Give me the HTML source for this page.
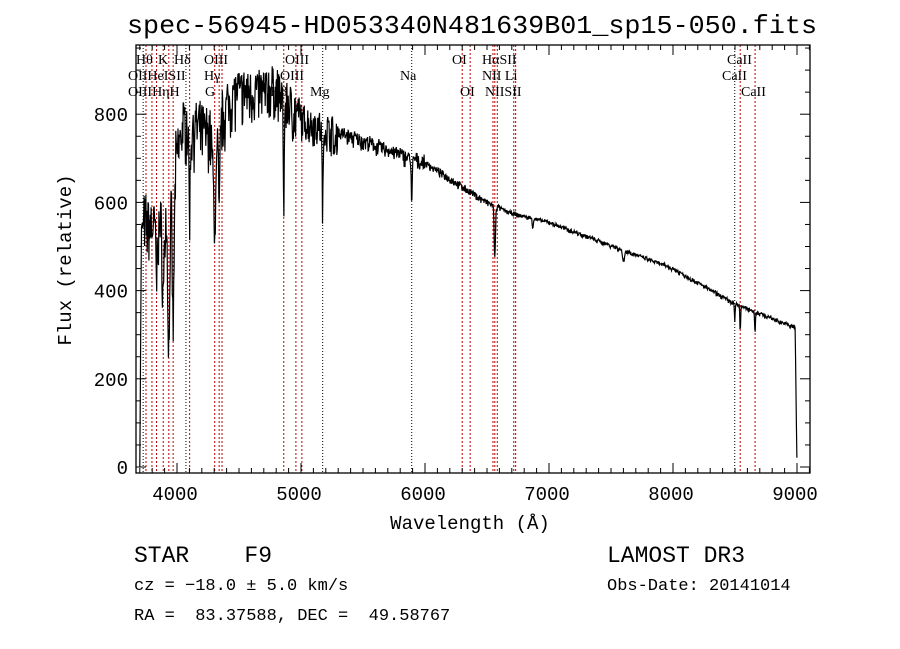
<!DOCTYPE html>
<html><head><meta charset="utf-8"><style>
body{margin:0;background:#fff;width:900px;height:649px;overflow:hidden}
svg{display:block}
.l{font-family:"Liberation Serif",serif;font-size:14px}
.t{font-family:"Liberation Mono",monospace;white-space:pre}
</style></head><body>
<svg id="s" width="900" height="649" xmlns="http://www.w3.org/2000/svg">
<rect width="900" height="649" fill="#fff"/>
<text class="t" x="472" y="33" font-size="26" text-anchor="middle" textLength="690" lengthAdjust="spacingAndGlyphs">spec-56945-HD053340N481639B01_sp15-050.fits</text>
<g id="lines"></g>
<g id="ticks" stroke="#000" stroke-width="1"></g>
<path id="spec" fill="none" stroke="#000" stroke-width="1.2"/>
<rect x="136" y="45" width="674" height="428" fill="none" stroke="#000" stroke-width="1.3"/>
<g class="l">
<text x="136" y="64">Hθ</text><text x="158" y="64">K</text><text x="174" y="64">Hδ</text><text x="204" y="64">OIII</text><text x="285" y="64">OIII</text><text x="452" y="64">OI</text><text x="482" y="64">HαSII</text><text x="727" y="64">CaII</text>
<text x="128" y="80">OIIHeISII</text><text x="204" y="80">Hγ</text><text x="280" y="80">OIII</text><text x="400" y="80">Na</text><text x="482" y="80">NII Li</text><text x="722" y="80">CaII</text>
<text x="128" y="96">OIIIHηH</text><text x="205" y="96">G</text><text x="270" y="96">Hβ</text><text x="310" y="96">Mg</text><text x="460" y="96">OI</text><text x="485" y="96">NIISII</text><text x="741" y="96">CaII</text>
</g>
<g class="t" font-size="19" text-anchor="middle" id="xl"></g>
<g class="t" font-size="19" text-anchor="end" id="yl"></g>
<text class="t" x="470" y="529" font-size="19" text-anchor="middle">Wavelength (Å)</text>
<text class="t" font-size="19" text-anchor="middle" transform="translate(71,260) rotate(-90)">Flux (relative)</text>
<text class="t" x="134" y="562" font-size="23">STAR    F9</text>
<text class="t" x="607" y="562" font-size="23">LAMOST DR3</text>
<text class="t" x="134" y="590" font-size="17">cz = −18.0 ± 5.0 km/s</text>
<text class="t" x="607" y="590" font-size="17">Obs-Date: 20141014</text>
<text class="t" x="134" y="620" font-size="17">RA =  83.37588, DEC =  49.58767</text>
</svg>
<script>
var NS="http://www.w3.org/2000/svg";
function X(w){return 177+(w-4000)*0.124;}
function Y(f){return 467-f*0.441;}
function el(p,n,a){var e=document.createElementNS(NS,n);for(var k in a)e.setAttribute(k,a[k]);p.appendChild(e);return e;}
var L=document.getElementById('lines');
var red=[3750,3798,3835,3889,3934,3969,4102,4304,4340,4363,4861,4959,5007,6300,6364,6548,6563,6583,6716,6731,8542,8662];
var blk=[3727,4072,5175,5893,8498];
red.forEach(function(w){el(L,'line',{x1:X(w),x2:X(w),y1:45,y2:473,stroke:'#c00000','stroke-dasharray':'2,2','stroke-width':1});});
blk.forEach(function(w){el(L,'line',{x1:X(w),x2:X(w),y1:45,y2:473,stroke:'#000','stroke-dasharray':'1,2','stroke-width':1});});
var T=document.getElementById('ticks');
for(var w=3700;w<=9100;w+=100){var big=w%1000==0,h=big?10:5;el(T,'line',{x1:X(w),x2:X(w),y1:473,y2:473-h});el(T,'line',{x1:X(w),x2:X(w),y1:45,y2:45+h});}
for(var f=0;f<=950;f+=50){var big=f%200==0,h=big?10:5;el(T,'line',{x1:136,x2:136+h,y1:Y(f),y2:Y(f)});el(T,'line',{x1:810,x2:810-h,y1:Y(f),y2:Y(f)});}
var xl=document.getElementById('xl');
for(var w=4000;w<=9000;w+=1000){var t=el(xl,'text',{x:X(w)-2,y:500});t.textContent=w;}
var yl=document.getElementById('yl');
for(var f=0;f<=800;f+=200){var t=el(yl,'text',{x:128,y:Y(f)+7});t.textContent=f;}
var seed=7;function r(){seed=(seed*16807)%2147483647;return seed/2147483647-0.5;}
var C=[[3700,480],[3730,560],[3900,540],[3990,700],[4050,780],[4300,760],[4450,850],[4800,860],[5000,790],[5200,770],[5500,740],[6000,690],[6500,600],[6700,575],[7000,555],[8000,450],[8500,370],[9000,315]];
function cont(w){for(var i=0;i<C.length-1;i++){if(w<=C[i+1][0]){var a=C[i],b=C[i+1];return a[1]+(b[1]-a[1])*(w-a[0])/(b[0]-a[0]);}}return 315;}
var A=[[3934,320,8],[3969,330,8],[3889,150,6],[3835,120,5],[4102,180,6],[4304,200,12],[4340,230,5],[4861,220,5],[5175,180,5],[5270,60,5],[5893,110,4],[6563,120,5],[6870,20,4],[7600,25,8],[8498,40,3],[8542,60,3],[8662,50,3]];
var d='';
for(var w=3700;w<=9000;w+=3.5){
 var f=cont(w);
 A.forEach(function(a){f-=a[1]*Math.exp(-Math.pow((w-a[0])/a[2],2)/2);});
 var amp=w<4000?120:w<4500?110:w<5000?100:w<5300?65:w<6000?30:w<6600?14:8;
 var n=r()+0.5*r();
 f+=amp*n*(n<0?1.3:0.8);
 if(w<3712)f=f*(w-3700)/12;
 if(w>8985)f=f*(9000-w)/15;
 f=Math.max(0,Math.min(f,950));
 d+=(d?'L':'M')+X(w).toFixed(1)+' '+Y(f).toFixed(1);
}
document.getElementById('spec').setAttribute('d',d);
</script>
</body></html>
